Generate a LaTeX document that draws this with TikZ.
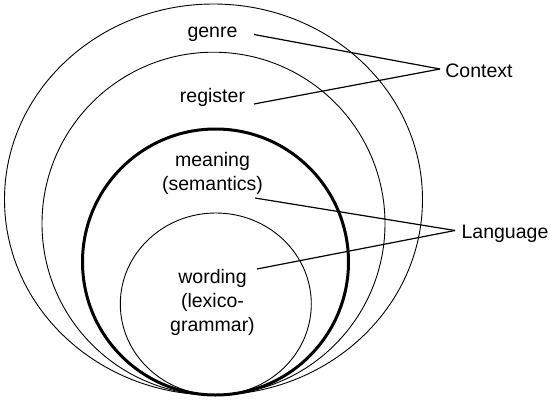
\documentclass[tikz,border=0pt]{standalone}
\usepackage{fontspec}
\setmainfont{Liberation Sans}
\begin{document}
\begin{tikzpicture}[x=1pt,y=-1pt,
  lbl/.style={inner sep=0pt, anchor=base, font=\fontsize{19.5}{24}\selectfont},
  ring/.style={line width=0.9pt},
  thickring/.style={line width=3pt},
  conn/.style={line width=1.2pt}]
\useasboundingbox (0,0) rectangle (550,402);
% circles
\draw[ring] (213.5,199.5) ellipse [x radius=209pt, y radius=195.5pt];
\draw[ring] (213.5,223.6) ellipse [x radius=171.5pt, y radius=171.4pt];
\draw[thickring] (215.5,262) ellipse [x radius=133pt, y radius=133pt];
\draw[ring] (215.8,304) ellipse [x radius=95.5pt, y radius=91pt];
% labels
\node[lbl] (genre) at (212.5,37) {genre};
\node[lbl] (register) at (212.5,102.5) {register};
\node[lbl] (meaning) at (212.5,166.5) {meaning};
\node[lbl] (semantics) at (212.5,190) {(semantics)};
\node[lbl] (wording) at (212.5,283.5) {wording};
\node[lbl] (lexico) at (212.5,307.5) {(lexico-};
\node[lbl] (grammar) at (212.5,331.5) {grammar)};
\node[lbl] (context) at (479,77) {Context};
\node[lbl] (language) at (505,238) {Language};
% connector end points
\coordinate (gs) at (254,34.5);
\coordinate (rs) at (254,104);
\coordinate (ss) at (255,198);
\coordinate (ws) at (257,269);
\coordinate (ce) at (440,69);
\coordinate (le) at (455,230.5);
\draw[conn] (gs) -- (ce);
\draw[conn] (rs) -- (ce);
\draw[conn] (ss) -- (le);
\draw[conn] (ws) -- (le);
\end{tikzpicture}
\end{document}
